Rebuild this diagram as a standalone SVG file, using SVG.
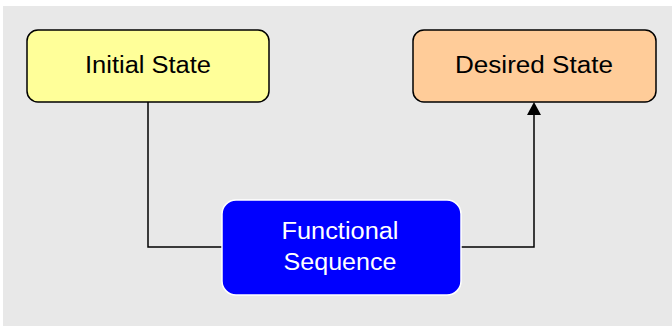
<svg xmlns="http://www.w3.org/2000/svg" width="672" height="326" viewBox="0 0 672 326">
  <defs>
    <style>
      .box { stroke: #000; stroke-width: 1.5; }
      .label { font-family: "Liberation Sans", Arial, sans-serif; font-size: 23px; text-anchor: middle; }
      .conn { fill: none; stroke: #000; stroke-width: 1.5; }
    </style>
  </defs>
  <rect x="0" y="0" width="672" height="326" fill="#ffffff"/>
  <rect x="3" y="6" width="669" height="320" fill="#e8e8e8"/>

  <g id="connectors">
    <polyline class="conn" points="148,102 148,247 222,247"/>
    <polyline class="conn" points="461,247 534,247 534,115"/>
    <path d="M527,115 L534,102 L541,115 Z" fill="#000"/>
  </g>

  <g id="initial-state">
    <rect class="box" x="27" y="30" width="242" height="72" rx="11" fill="#ffff99"/>
    <text class="label" x="148" y="73" fill="#000" textLength="126" lengthAdjust="spacingAndGlyphs">Initial State</text>
  </g>

  <g id="desired-state">
    <rect class="box" x="413" y="30" width="243" height="72" rx="11" fill="#ffcc99"/>
    <text class="label" x="534" y="73" fill="#000" textLength="158" lengthAdjust="spacingAndGlyphs">Desired State</text>
  </g>

  <g id="functional-sequence">
    <rect x="222" y="200" width="239" height="95" rx="14" fill="#0000ff" stroke="#ffffff" stroke-width="1.5"/>
    <text class="label" x="340" y="239" fill="#fff" textLength="117" lengthAdjust="spacingAndGlyphs">Functional</text>
    <text class="label" x="340" y="270" fill="#fff" textLength="113" lengthAdjust="spacingAndGlyphs">Sequence</text>
  </g>
</svg>
